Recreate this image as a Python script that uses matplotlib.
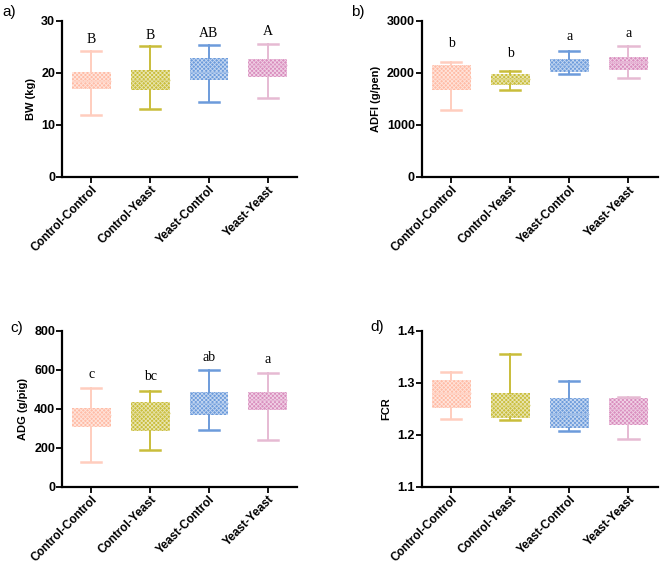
import matplotlib
matplotlib.use("Agg")
import matplotlib.pyplot as plt

plt.rcParams['font.family'] = ['Liberation Sans', 'DejaVu Sans']
plt.rcParams['hatch.linewidth'] = 0.6

groups = ["Control-Control", "Control-Yeast", "Yeast-Control", "Yeast-Yeast"]
colors = ["#FFBCA6", "#C9BD3A", "#6C9BDB", "#D98DBE"]
whisk_colors = ["#FFCDBE", "#C9BD3A", "#6C9BDB", "#E6BAD3"]

# box stats per group: whislo, q1, med, q3, whishi
bw = [[11.9, 16.9, 18.5, 20.1, 24.3],
      [13.0, 16.8, 18.6, 20.5, 25.2],
      [14.4, 18.7, 20.2, 22.8, 25.3],
      [15.2, 19.2, 21.5, 22.7, 25.6]]
adfi = [[1282, 1667, 1900, 2147, 2212],
        [1679, 1763, 1880, 1987, 2038],
        [1974, 2019, 2150, 2269, 2423],
        [1904, 2064, 2200, 2314, 2526]]
adg = [[126, 304, 370, 405, 508],
       [190, 287, 380, 432, 492],
       [292, 368, 428, 487, 598],
       [239, 395, 445, 484, 581]]
fcr = [[1.231, 1.252, 1.280, 1.306, 1.321],
       [1.228, 1.233, 1.258, 1.281, 1.356],
       [1.208, 1.212, 1.240, 1.270, 1.304],
       [1.192, 1.219, 1.250, 1.271, 1.272]]

letters_bw = ["B", "B", "AB", "A"]
letters_bw_y = [26.4, 27.2, 27.6, 27.9]
letters_adfi = ["b", "b", "a", "a"]
letters_adfi_y = [2565, 2373, 2705, 2757]
letters_adg = ["c", "bc", "ab", "a"]
letters_adg_y = [576, 564, 662, 650]


def mix_white(c, f):
    c = matplotlib.colors.to_rgb(c)
    return tuple(x + (1 - x) * f for x in c)


def panel(rect, stats, ylabel, ylim, yticks, yfmt, letters=None, letters_y=None):
    ax = fig.add_axes(rect)
    bxstats = []
    for g, s in zip(groups, stats):
        bxstats.append(dict(label=g, whislo=s[0], q1=s[1], med=s[2], q3=s[3], whishi=s[4], fliers=[]))
    res = ax.bxp(bxstats, positions=range(4), widths=0.66, patch_artist=True,
                 showfliers=False)
    for i in range(4):
        b = res['boxes'][i]
        b.set_facecolor(colors[i])
        b.set_edgecolor(mix_white(colors[i], 0.6))
        b.set_linewidth(0)
        b.set_hatch('xxxxxxxx')
        res['medians'][i].set_color(mix_white(colors[i], 0.35))
        res['medians'][i].set_linewidth(1.0)
        for w in res['whiskers'][2 * i:2 * i + 2]:
            w.set_color(whisk_colors[i])
            w.set_linewidth(1.4)
        for c in res['caps'][2 * i:2 * i + 2]:
            c.set_color(whisk_colors[i])
            c.set_linewidth(1.8)
            c.set_xdata([i - 0.17, i + 0.17])
    ax.set_xlim(-0.5, 3.5)
    ax.set_ylim(*ylim)
    ax.set_yticks(yticks)
    ax.set_yticklabels([yfmt.format(v) for v in yticks], fontsize=9, fontweight='bold')
    ax.set_xticks(range(4))
    ax.set_xticklabels(groups, rotation=45, ha='right', rotation_mode='anchor',
                       fontsize=8.5, fontweight='bold')
    ax.set_ylabel(ylabel, fontsize=8, fontweight='bold', labelpad=4)
    for sp in ['top', 'right']:
        ax.spines[sp].set_visible(False)
    for sp in ['left', 'bottom']:
        ax.spines[sp].set_linewidth(1.6)
    ax.tick_params(width=1.3, length=4, pad=1)
    if letters:
        for i, (t, y) in enumerate(zip(letters, letters_y)):
            ax.text(i, y, t, ha='center', va='center', fontsize=10,
                    family='Liberation Serif')
    return ax


fig = plt.figure(figsize=(6.6, 5.65), dpi=100)

panel([0.094, 0.687, 0.356, 0.276], bw, "BW (kg)", (0, 30), [0, 10, 20, 30], "{:d}",
      letters_bw, letters_bw_y)
panel([0.639, 0.687, 0.358, 0.276], adfi, "ADFI (g/pen)", (0, 3000), [0, 1000, 2000, 3000], "{:d}",
      letters_adfi, letters_adfi_y)
panel([0.094, 0.1386, 0.356, 0.276], adg, "ADG (g/pig)", (0, 800), [0, 200, 400, 600, 800], "{:d}",
      letters_adg, letters_adg_y)
panel([0.639, 0.1386, 0.358, 0.276], fcr, "FCR", (1.1, 1.4), [1.1, 1.2, 1.3, 1.4], "{:.1f}")

fig.text(0.003, 0.978, "a)", fontsize=11, va='center')
fig.text(0.532, 0.978, "b)", fontsize=11, va='center')
fig.text(0.016, 0.42, "c)", fontsize=11, va='center')
fig.text(0.561, 0.422, "d)", fontsize=11, va='center')

fig.savefig("out.png", dpi=100)
